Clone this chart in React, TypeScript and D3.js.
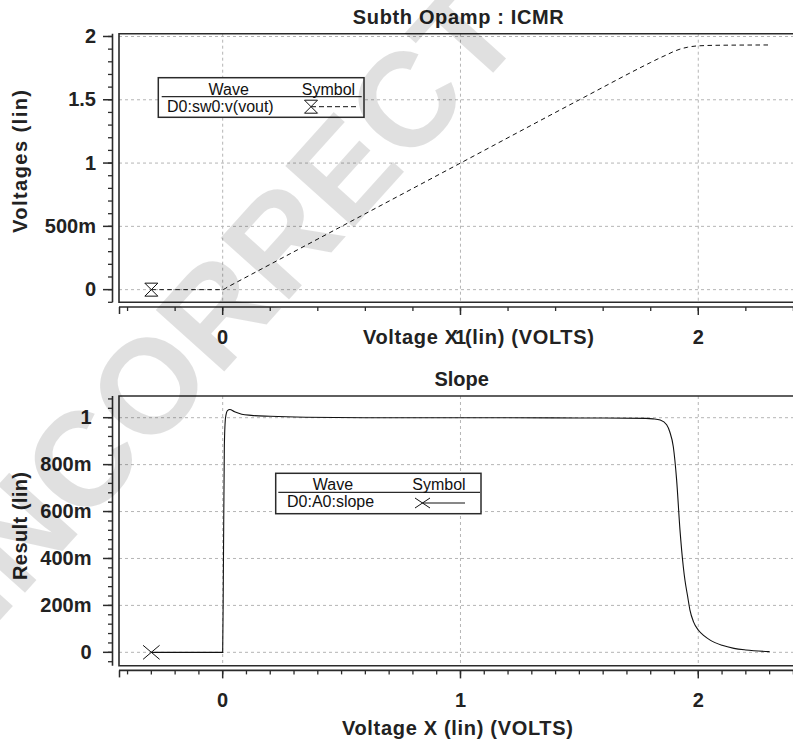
import React from "react";
import * as d3 from "d3";

// Output voltage of the sweep (D0:sw0:v(vout))
const VOUT_X = [-0.3, 0, 0.02, 0.5, 1.0, 1.5, 1.8, 1.84, 1.867, 1.895, 1.923, 1.955, 2.0, 2.1, 2.3];
const VOUT_Y = [0, 0, 0.02, 0.5, 1.0, 1.5, 1.795, 1.832, 1.855, 1.88, 1.9, 1.915, 1.926, 1.931, 1.933];

// Derivative of the output (D0:A0:slope)
const SLOPE_X = [
  -0.3, 0, 0.003, 0.007, 0.012, 0.02, 0.03, 0.05, 0.08, 0.12, 0.2, 0.35, 0.6, 1.0, 1.5,
  1.78, 1.81, 1.84, 1.867, 1.88, 1.895, 1.909, 1.923, 1.937, 1.944, 1.955, 1.965, 1.98,
  2.0, 2.025, 2.05, 2.1, 2.15, 2.2, 2.3,
];
const SLOPE_Y = [
  0, 0, 0.35, 0.88, 1.0, 1.03, 1.035, 1.025, 1.015, 1.01, 1.006, 1.002, 1.0, 1.0, 0.999,
  0.997, 0.995, 0.99, 0.97, 0.94, 0.876, 0.734, 0.522, 0.365, 0.307, 0.24, 0.18, 0.13,
  0.095, 0.07, 0.052, 0.03, 0.017, 0.01, 0.003,
];

const X_TICKS = [0, 1, 2];
const X_LABELS = ["0", "1", "2"];
const TOP_Y_TICKS = [0, 0.5, 1, 1.5, 2];
const TOP_Y_LABELS = ["0", "500m", "1", "1.5", "2"];
const BOT_Y_TICKS = [0, 0.2, 0.4, 0.6, 0.8, 1];
const BOT_Y_LABELS = ["0", "200m", "400m", "600m", "800m", "1"];

const FONT = "'Liberation Sans', Arial, Helvetica, sans-serif";
const INK = "#2b2b2b";
const GRID = "#b5b5b5";
const FRAME_LEFT = 119;
const FRAME_RIGHT = 800;

const x = d3.scaleLinear().domain([-0.436, 2.4]).range([FRAME_LEFT, 793.4]);

type PanelSpec = {
  top: number;
  bottom: number;
  y: d3.ScaleLinear<number, number>;
  yTicks: number[];
  yLabels: string[];
  yMinor: number[];
  xMinor: number[];
  yLabelRight: number;
  xLabelBaseline: number;
};

function Panel({ spec }: { spec: PanelSpec }) {
  const { top, bottom, y, yTicks, yLabels, yMinor, xMinor, yLabelRight, xLabelBaseline } = spec;
  const axisX = 112.5;
  const axisY = bottom + 4.7;
  return (
    <g>
      {/* grid */}
      {yTicks.map((t) => (
        <line key={"gy" + t} x1={FRAME_LEFT} x2={FRAME_RIGHT} y1={y(t)} y2={y(t)}
          stroke={GRID} strokeWidth={1} strokeDasharray="3,3" />
      ))}
      {X_TICKS.map((t) => (
        <line key={"gx" + t} x1={x(t)} x2={x(t)} y1={top} y2={bottom}
          stroke={GRID} strokeWidth={1} strokeDasharray="3,3" />
      ))}
      {/* frame */}
      <path d={`M${FRAME_RIGHT},${top}H${FRAME_LEFT}V${bottom}H${FRAME_RIGHT}`}
        fill="none" stroke={INK} strokeWidth={1.6} />
      {/* y axis */}
      <line x1={axisX} x2={axisX} y1={top} y2={bottom} stroke={INK} strokeWidth={1.6} />
      {yMinor.map((t, i) => (
        <line key={"ym" + i} x1={axisX - 4.5} x2={axisX} y1={y(t)} y2={y(t)} stroke={INK} strokeWidth={1.3} />
      ))}
      {yTicks.map((t) => (
        <line key={"yM" + t} x1={axisX - 9.5} x2={axisX} y1={y(t)} y2={y(t)} stroke={INK} strokeWidth={1.5} />
      ))}
      {yTicks.map((t, i) => (
        <text key={"yl" + t} x={yLabelRight} y={y(t)} dy="0.33em" textAnchor="end"
          fontFamily={FONT} fontWeight="bold" fontSize={20} fill="#222">{yLabels[i]}</text>
      ))}
      {/* x axis */}
      <line x1={FRAME_LEFT} x2={FRAME_RIGHT} y1={axisY} y2={axisY} stroke={INK} strokeWidth={1.6} />
      <line x1={FRAME_LEFT + 0.5} x2={FRAME_LEFT + 0.5} y1={axisY} y2={axisY + 7} stroke={INK} strokeWidth={1.5} />
      {xMinor.filter((t) => x(t) > FRAME_LEFT + 3 && x(t) < 795).map((t, i) => (
        <line key={"xm" + i} x1={x(t)} x2={x(t)} y1={axisY} y2={axisY + 4} stroke={INK} strokeWidth={1.3} />
      ))}
      {X_TICKS.map((t) => (
        <line key={"xM" + t} x1={x(t)} x2={x(t)} y1={axisY} y2={axisY + 8} stroke={INK} strokeWidth={1.5} />
      ))}
      {X_TICKS.map((t, i) => (
        <text key={"xl" + t} x={x(t)} y={xLabelBaseline} textAnchor="middle"
          fontFamily={FONT} fontWeight="bold" fontSize={20} fill="#222">{X_LABELS[i]}</text>
      ))}
    </g>
  );
}

function hourglass(cx: number, cy: number, s: number) {
  const h = s / 2;
  return `M${cx - h},${cy - h}H${cx + h}L${cx - h},${cy + h}H${cx + h}Z`;
}

function cross(cx: number, cy: number, w: number, h: number) {
  return `M${cx - w / 2},${cy - h / 2}L${cx + w / 2},${cy + h / 2}M${cx + w / 2},${cy - h / 2}L${cx - w / 2},${cy + h / 2}`;
}

export default function App() {
  const yTop = d3.scaleLinear().domain([-0.1, 2.022]).range([302.3, 33.7]);
  const yBot = d3.scaleLinear().domain([-0.057, 1.0925]).range([665.7, 396]);

  const voutLine = d3.line<number>()
    .x((_, i) => x(VOUT_X[i]))
    .y((d) => yTop(d))
    .curve(d3.curveMonotoneX);
  const slopeLine = d3.line<number>()
    .x((_, i) => x(SLOPE_X[i]))
    .y((d) => yBot(d))
    .curve(d3.curveMonotoneX);

  const topSpec: PanelSpec = {
    top: 33.7,
    bottom: 302.3,
    y: yTop,
    yTicks: TOP_Y_TICKS,
    yLabels: TOP_Y_LABELS,
    yMinor: d3.range(-1, 21).map((i) => i * 0.1),
    xMinor: d3.range(-2, 13).map((i) => i * 0.2),
    yLabelRight: 96,
    xLabelBaseline: 344,
  };
  const botSpec: PanelSpec = {
    top: 396,
    bottom: 665.7,
    y: yBot,
    yTicks: BOT_Y_TICKS,
    yLabels: BOT_Y_LABELS,
    yMinor: d3.range(-1, 28).map((i) => i * 0.04),
    xMinor: d3.range(-4, 25).map((i) => i * 0.1),
    yLabelRight: 91.5,
    xLabelBaseline: 706.7,
  };

  const titleStyle = { fontFamily: FONT, fontWeight: "bold" as const, fontSize: 20, fill: "#222" };
  const legendText = { fontFamily: FONT, fontSize: 16, fill: "#111" };

  return (
    <svg width={793} height={741} viewBox="0 0 793 741"
      style={{ position: "absolute", left: 0, top: 0, background: "#fff" }}>
      <rect x={0} y={0} width={793} height={741} fill="#fff" />

      {/* upper plot: output voltage */}
      <text x={458.3} y={24} textAnchor="middle" textLength={211} lengthAdjust="spacing" {...titleStyle}>
        Subth Opamp : ICMR
      </text>
      <Panel spec={topSpec} />
      <path d={voutLine(VOUT_Y) || ""} fill="none" stroke="#111" strokeWidth={1} strokeDasharray="4.5,3.5" />
      <path d={hourglass(x(VOUT_X[0]), yTop(VOUT_Y[0]), 13)} fill="#fff" stroke="#111" strokeWidth={1} />
      <text x={478.4} y={344} textAnchor="middle" textLength={231} lengthAdjust="spacing" {...titleStyle}>
        Voltage X (lin) (VOLTS)
      </text>
      <text transform="translate(27,161.5) rotate(-90)" textAnchor="middle" textLength={143}
        lengthAdjust="spacing" {...titleStyle}>Voltages (lin)</text>

      <g>
        <rect x={158.3} y={77.7} width={205.7} height={39.6} fill="#fff" stroke={INK} strokeWidth={1.5} />
        <line x1={161.7} x2={361.7} y1={96.7} y2={96.7} stroke={INK} strokeWidth={1.2} />
        <text x={228.7} y={95} textAnchor="middle" {...legendText}>Wave</text>
        <text x={328.5} y={95} textAnchor="middle" {...legendText}>Symbol</text>
        <text x={167} y={111.7} {...legendText}>D0:sw0:v(vout)</text>
        <line x1={311} x2={356} y1={106.7} y2={106.7} stroke="#111" strokeWidth={1} strokeDasharray="5,3" />
        <path d={hourglass(311, 106.7, 13)} fill="#fff" stroke="#111" strokeWidth={1} />
      </g>

      {/* lower plot: slope */}
      <text x={461.7} y={386} textAnchor="middle" {...titleStyle}>Slope</text>
      <Panel spec={botSpec} />
      <path d={slopeLine(SLOPE_Y) || ""} fill="none" stroke="#111" strokeWidth={1.1} />
      <path d={cross(x(SLOPE_X[0]), yBot(SLOPE_Y[0]), 16.5, 14)} fill="none" stroke="#111" strokeWidth={1} />
      <text x={457.4} y={735} textAnchor="middle" textLength={231} lengthAdjust="spacing" {...titleStyle}>
        Voltage X (lin) (VOLTS)
      </text>
      <text transform="translate(27,526) rotate(-90)" textAnchor="middle" textLength={108}
        lengthAdjust="spacing" {...titleStyle}>Result (lin)</text>

      <g>
        <rect x={275.7} y={473.3} width={205.3} height={40.4} fill="#fff" stroke={INK} strokeWidth={1.5} />
        <line x1={278.3} x2={480} y1={492.3} y2={492.3} stroke={INK} strokeWidth={1.2} />
        <text x={333} y={490} textAnchor="middle" {...legendText}>Wave</text>
        <text x={439} y={490} textAnchor="middle" {...legendText}>Symbol</text>
        <text x={287} y={507} {...legendText}>D0:A0:slope</text>
        <line x1={422.5} x2={465} y1={503} y2={503} stroke="#111" strokeWidth={1} />
        <path d={cross(422.5, 503, 15, 10)} fill="none" stroke="#111" strokeWidth={1} />
      </g>

      {/* stamp across both plots */}
      <text transform="translate(226,300) rotate(-48)" textAnchor="middle" dominantBaseline="central"
        fontFamily={FONT} fontWeight="bold" fontSize={134} fill="#000" fillOpacity={0.12}>
        INCORRECT
      </text>
    </svg>
  );
}
